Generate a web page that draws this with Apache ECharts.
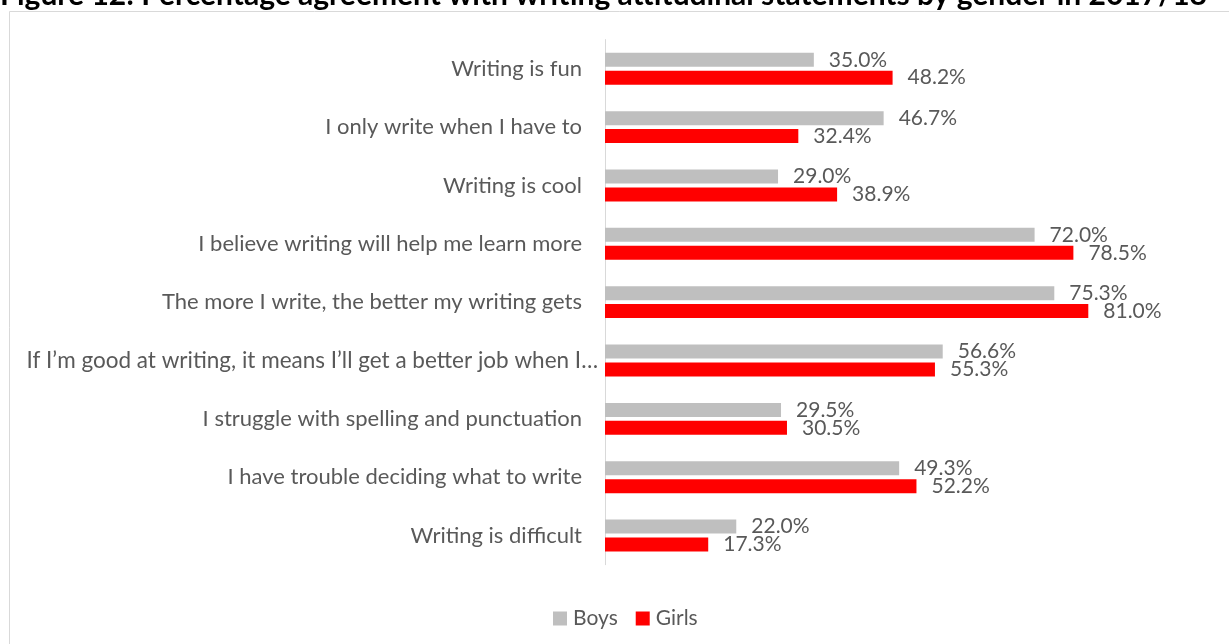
<!DOCTYPE html>
<html>
<head>
<meta charset="utf-8">
<style>
  html, body { margin: 0; padding: 0; background: #fff; }
  #chart { width: 1229px; height: 644px; }
</style>
<script src="https://cdn.jsdelivr.net/npm/echarts@6/dist/echarts.min.js"></script>
</head>
<body>
<div id="chart"></div>
<script>
// Attitude statements, top to bottom
const statements = [
  'Writing is fun',
  'I only write when I have to',
  'Writing is cool',
  'I believe writing will help me learn more',
  'The more I write, the better my writing gets',
  'If I’m good at writing, it means I’ll get a better job when I…',
  'I struggle with spelling and punctuation',
  'I have trouble deciding what to write',
  'Writing is difficult'
];
// Percentage agreeing, by gender
const boys  = [35.0, 46.7, 29.0, 72.0, 75.3, 56.6, 29.5, 49.3, 22.0];
const girls = [48.2, 32.4, 38.9, 78.5, 81.0, 55.3, 30.5, 52.2, 17.3];

const titleText = 'Figure 12: Percentage agreement with writing attitudinal statements by gender in 2017/18';
const FONT = 'Lato, "Open Sans", sans-serif';
const TEXT = '#595959';

const chart = echarts.init(document.getElementById('chart'));

function barLabel() {
  return {
    show: true,
    position: 'right',
    distance: 15,
    color: TEXT,
    fontFamily: FONT,
    fontSize: 21,
    formatter: p => p.value.toFixed(1) + '%'
  };
}

chart.setOption({
  animation: false,
  graphic: [
    {
      type: 'text', left: 0, top: -20,
      style: { text: titleText, font: 'bold 30px ' + FONT, fill: '#000' }
    },
    {
      type: 'line',
      shape: { x1: 9.5, y1: 11.5, x2: 1229, y2: 11.5 },
      style: { stroke: '#D9D9D9', lineWidth: 1 }
    },
    {
      type: 'line',
      shape: { x1: 9.5, y1: 11.5, x2: 9.5, y2: 644 },
      style: { stroke: '#D9D9D9', lineWidth: 1 }
    }
  ],
  legend: {
    data: ['Boys', 'Girls'],
    bottom: 15,
    left: 553,
    padding: 0,
    itemWidth: 14,
    itemHeight: 14,
    itemGap: 18,
    icon: 'rect',
    textStyle: { color: TEXT, fontFamily: FONT, fontSize: 21, padding: [0, 0, 0, 1] }
  },
  grid: { left: 605, right: 87, top: 39.6, bottom: 79.3, containLabel: false },
  xAxis: {
    type: 'value',
    min: 0,
    max: 90,
    show: false
  },
  yAxis: {
    type: 'category',
    data: statements,
    inverse: true,
    axisLine: { show: true, lineStyle: { color: '#D9D9D9' } },
    axisTick: { show: false },
    axisLabel: {
      margin: 7,
      color: TEXT,
      fontFamily: FONT,
      fontSize: 22,
      formatter: v => v.endsWith('…') ? '{w|' + v + '}' : '{n|' + v + '}',
      rich: {
        n: { padding: [0, 16, 0, 0], color: TEXT, fontFamily: FONT, fontSize: 22 },
        w: { padding: [0, 0, 0, 0], color: TEXT, fontFamily: FONT, fontSize: 22.5 }
      }
    }
  },
  series: [
    {
      name: 'Boys', type: 'bar', data: boys,
      barWidth: 14, barGap: '28%',
      itemStyle: { color: '#BFBFBF' },
      label: barLabel()
    },
    {
      name: 'Girls', type: 'bar', data: girls,
      barWidth: 14, barGap: '28%',
      itemStyle: { color: '#FF0000' },
      label: barLabel()
    }
  ]
});
</script>
</body>
</html>
